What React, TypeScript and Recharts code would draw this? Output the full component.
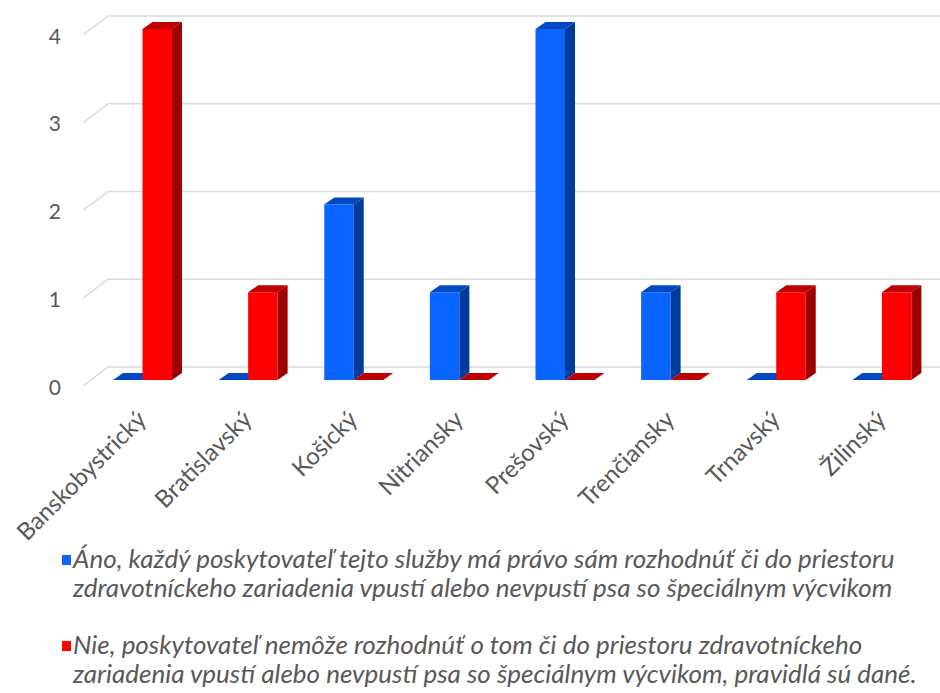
import { BarChart, Bar, XAxis, YAxis, CartesianGrid } from 'recharts';

const regions = ['Banskobystrický', 'Bratislavský', 'Košický', 'Nitriansky', 'Prešovský', 'Trenčiansky', 'Trnavský', 'Žilinský'];
const anoValues = [0, 0, 2, 1, 4, 1, 0, 0];
const nieValues = [4, 1, 0, 0, 0, 0, 1, 1];
const seriesNames = [
  'Áno, každý poskytovateľ tejto služby má právo sám rozhodnúť či do priestoru zdravotníckeho zariadenia vpustí alebo nevpustí psa so špeciálnym výcvikom',
  'Nie, poskytovateľ nemôže rozhodnúť o tom či do priestoru zdravotníckeho zariadenia vpustí alebo nevpustí psa so špeciálnym výcvikom, pravidlá sú dané.',
];
const yTicks = [0, 1, 2, 3, 4];

const data = regions.map((name, i) => ({ name, ano: anoValues[i], nie: nieValues[i] }));

const BLUE = { front: '#0a64ff', top: '#0049c2', side: '#003c9e' };
const RED = { front: '#ff0000', top: '#c00000', side: '#9c0000' };
const DX = 10;
const DY = 7;
const TEXT = '#595959';
const FONT = 'Lato, "Open Sans", sans-serif';

function Bar3D(props: any) {
  const { x, y, width, height, colors } = props;
  const h = Math.max(0, height || 0);
  const r = x + width;
  const b = y + h;
  return (
    <g>
      <rect x={x} y={y} width={width} height={h} fill={colors.front} />
      <polygon points={`${x},${y} ${x + DX},${y - DY} ${r + DX},${y - DY} ${r},${y}`} fill={colors.top} />
      <polygon points={`${r},${y} ${r + DX},${y - DY} ${r + DX},${b - DY} ${r},${b}`} fill={colors.side} />
    </g>
  );
}

// back-wall gridline with the little 3D diagonal on the left
function GridLine(props: any) {
  const { y1 } = props;
  return (
    <path
      key={props.key}
      d={`M83,${y1 + 6} L108,${y1 - 13} L940,${y1 - 13}`}
      fill="none"
      stroke="#d9d9d9"
      strokeWidth={1.5}
    />
  );
}

function YTick(props: any) {
  const { y, payload } = props;
  return (
    <text x={61} y={y + 6} textAnchor="end" dominantBaseline="central" fill={TEXT} fontSize={21} fontFamily={FONT}>
      {payload.value}
    </text>
  );
}

function XTick(props: any) {
  const { x, payload } = props;
  const tx = x + 5;
  const ty = 421;
  return (
    <text
      x={tx}
      y={ty}
      textAnchor="end"
      fill={TEXT}
      fontSize={24}
      fontFamily={FONT}
      transform={`rotate(-45, ${tx}, ${ty})`}
    >
      {payload.value}
    </text>
  );
}

export default function App() {
  return (
    <div style={{ position: 'absolute', left: 0, top: 0, width: 940, height: 693, background: '#fff' }}>
      <BarChart
        width={940}
        height={560}
        data={data}
        margin={{ top: 29, right: 5, bottom: 30, left: 0 }}
        barGap={0}
        barSize={29.5}
      >
        <CartesianGrid vertical={false} horizontal={GridLine} />
        <XAxis dataKey="name" height={150} axisLine={false} tickLine={false} interval={0} tick={XTick} />
        <YAxis width={90} domain={[0, 4]} ticks={yTicks} axisLine={false} tickLine={false} tick={YTick} />
        <Bar dataKey="ano" name={seriesNames[0]} isAnimationActive={false} shape={(p: any) => <Bar3D {...p} colors={BLUE} />} />
        <Bar dataKey="nie" name={seriesNames[1]} isAnimationActive={false} shape={(p: any) => <Bar3D {...p} colors={RED} />} />
      </BarChart>
      <div style={{ position: 'absolute', left: 62, top: 544, width: 875, fontFamily: FONT, fontStyle: 'italic', fontSize: 26, lineHeight: '29px', color: TEXT }}>
        {seriesNames.map((n, i) => (
          <div key={i} style={{ marginBottom: 28, display: 'flex', alignItems: 'flex-start' }}>
            <span style={{ display: 'inline-block', width: 9, height: 10, marginTop: 11, marginRight: 2, flexShrink: 0, background: i === 0 ? BLUE.front : RED.front }} />
            <span>{n}</span>
          </div>
        ))}
      </div>
    </div>
  );
}
